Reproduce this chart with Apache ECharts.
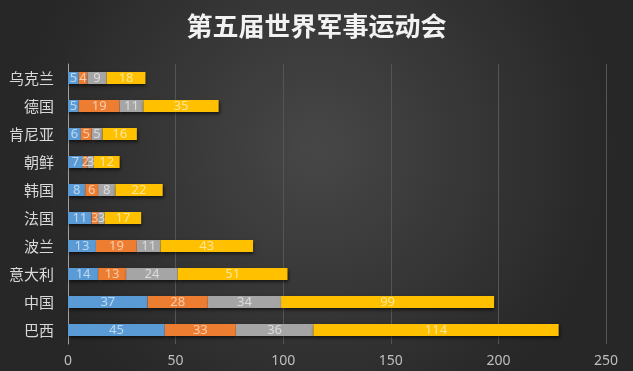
<!DOCTYPE html>
<html><head><meta charset="utf-8">
<script src="https://cdn.jsdelivr.net/npm/echarts@6/dist/echarts.min.js"></script>
<style>html,body{margin:0;padding:0;}#c{width:633px;height:371px;}</style>
</head><body><div id="c"></div>
<script>
const categories = ['巴西','中国','意大利','波兰','法国','韩国','朝鲜','肯尼亚','德国','乌克兰'];
const gold =   [45,37,14,13,11,8,7,6,5,5];
const silver = [33,28,13,19,3,6,2,5,19,4];
const bronze = [36,34,24,11,3,8,3,5,11,9];
const other =  [114,99,51,43,17,22,12,16,35,18];
const seriesNames = ['金牌','银牌','铜牌','其他'];
const colors = ['#5B9BD5','#ED7D31','#A5A5A5','#FFC000'];
const xTicks = [0,50,100,150,200,250];

const chart = echarts.init(document.getElementById('c'));
const datas = [gold, silver, bronze, other];
chart.setOption({
  backgroundColor: {
    type: 'radial', x: 0.5, y: 0.4, r: 0.8,
    colorStops: [{offset:0,color:'#474747'},{offset:1,color:'#272727'}]
  },
  title: {
    text: '第五届世界军事运动会', left: 'center', top: 8,
    textStyle: {color:'#f2f2f2', fontSize: 26, fontWeight: 'bold', fontFamily: 'Noto Sans CJK SC'}
  },
  grid: {left: 68, right: 27, top: 64, bottom: 27, containLabel: false},
  xAxis: {
    type: 'value', min: 0, max: 250, interval: 50,
    axisLine: {show:false}, axisTick: {show:false},
    splitLine: {lineStyle: {color:'#555555', width: 1}},
    axisLabel: {color:'#bfbfbf', fontSize: 14, margin: 10, fontFamily: 'Noto Sans'}
  },
  yAxis: {
    type: 'category', data: categories,
    axisLine: {show:true, lineStyle:{color:'#a0a0a0', width: 1}},
    axisTick: {show:false},
    axisLabel: {color:'#d9d9d9', fontSize: 15, margin: 14, fontFamily: 'Noto Sans CJK SC'}
  },
  series: datas.map((d,i)=>({
    name: seriesNames[i], type: 'bar', stack: 'total', data: d,
    barWidth: 12,
    itemStyle: {color: colors[i], shadowColor:'rgba(0,0,0,0.6)', shadowBlur: 3, shadowOffsetX: 1, shadowOffsetY: 2},
    label: {show: true, position: 'inside', color: 'rgba(255,255,255,0.6)', fontSize: 13, fontFamily: 'Noto Sans'}
  }))
});
</script></body></html>
